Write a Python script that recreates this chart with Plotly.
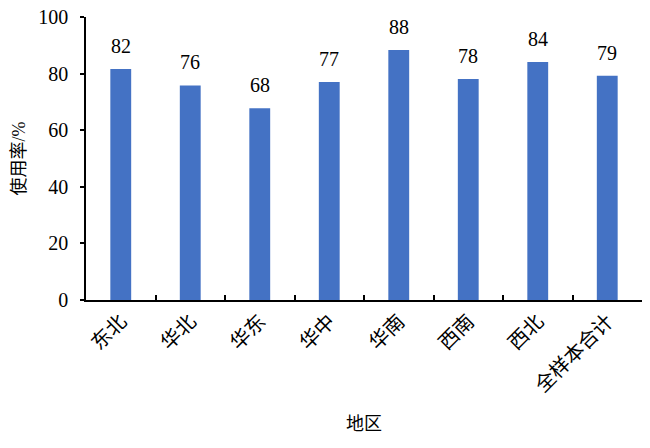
import plotly.graph_objects as go

regions = ["东北", "华北", "华东", "华中", "华南", "西南", "西北", "全样本合计"]
usage_rate = [81.6, 75.8, 67.8, 77.0, 88.3, 78.1, 84.1, 79.2]
y_ticks = [0, 20, 40, 60, 80, 100]

FONT = "'Liberation Serif', 'Times New Roman', 'DejaVu Serif', serif, 'Noto Sans CJK SC'"

fig = go.Figure()
fig.add_trace(go.Bar(
    x=regions,
    y=usage_rate,
    marker=dict(color="#4472C4", line=dict(width=0)),
    width=0.3,
    hoverinfo="skip",
))

for r, v in zip(regions, usage_rate):
    fig.add_annotation(
        x=r, y=v, text=f"{v:.0f}", showarrow=False,
        yanchor="bottom", yshift=10,
        font=dict(family=FONT, size=20, color="#000000"),
    )

fig.update_layout(
    width=650, height=448,
    margin=dict(l=86, r=8, t=17, b=148),
    paper_bgcolor="white", plot_bgcolor="white",
    showlegend=False,
    font=dict(family=FONT, size=17, color="#000000"),
)
fig.update_xaxes(
    type="category",
    automargin=False,
    showline=True, linecolor="#000000", linewidth=1.5,
    ticks="inside", tickson="boundaries", ticklen=5, tickcolor="#000000", tickwidth=1.5,
    tickangle=-45,
    tickfont=dict(family=FONT, size=20),
    title=dict(text="地区", font=dict(family=FONT, size=18), standoff=22),
    showgrid=False,
    range=[-0.5, len(regions) - 0.5],
)
fig.update_yaxes(
    range=[0, 100],
    automargin=False,
    tickvals=y_ticks,
    showline=True, linecolor="#000000", linewidth=1.5,
    ticks="outside", ticklen=4, tickcolor="#000000", tickwidth=1.5,
    ticklabelstandoff=8,
    tickfont=dict(family=FONT, size=20),
    title=dict(text="使用率/%", font=dict(family=FONT, size=18), standoff=8),
    showgrid=False, zeroline=False,
)

fig.write_html("out.html", config={"displayModeBar": False},
               post_script="document.body.style.margin='0';")
